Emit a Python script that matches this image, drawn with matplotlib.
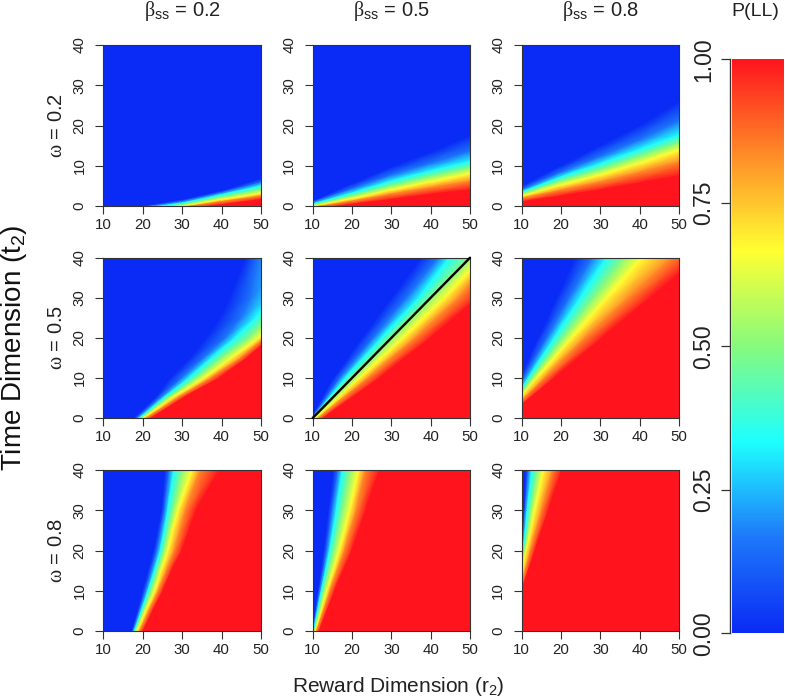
import numpy as np
import matplotlib
matplotlib.use("Agg")
import matplotlib.pyplot as plt
from matplotlib.colors import LinearSegmentedColormap, Normalize
from matplotlib.cm import ScalarMappable

plt.rcParams['font.family'] = ['Liberation Sans', 'DejaVu Sans']
plt.rcParams['mathtext.fontset'] = 'custom'
plt.rcParams['mathtext.rm'] = 'Liberation Serif'
plt.rcParams['mathtext.it'] = 'Liberation Sans'
plt.rcParams['mathtext.default'] = 'regular'

# P(LL) levels traced in every panel
levels = [0, 1/6, 2/6, 3/6, 4/6, 5/6, 1]
level_colors = ['#0a2af5', '#1e78fa', '#1effff', '#87fa7d', '#ffff32', '#ff8c28', '#ff141e']

beta_labels = ['0.2', '0.5', '0.8']
omega_labels = ['0.2', '0.5', '0.8']

# top row: t2 of each P(LL) level at given r2
r_stations = [10, 20, 30, 40, 50]
p11 = [[-1.0, -1.5, -2.0, -2.5, -3.0, -3.5, -4.0],
       [0.0, -0.3, -0.6, -0.8, -1.0, -1.2, -1.5],
       [1.6, 1.1, 0.7, 0.3, 0.0, -0.3, -0.8],
       [3.8, 3.3, 2.8, 2.2, 1.6, 1.1, 0.3],
       [6.8, 5.8, 5.0, 4.0, 3.1, 2.5, 1.6]]
p12 = [[1.3, 0.9, 0.5, 0.2, 0.0, -0.3, -0.8],
       [5.5, 4.2, 3.2, 2.5, 1.8, 1.2, 0.4],
       [9.7, 7.6, 6.2, 5.0, 4.0, 3.0, 1.6],
       [13.4, 10.5, 8.7, 7.3, 6.0, 4.6, 2.9],
       [17.5, 13.5, 11.0, 9.5, 8.0, 6.2, 4.0]]
p13 = [[5.0, 4.0, 3.5, 3.0, 2.5, 1.9, 1.0],
       [10.0, 8.3, 7.2, 6.2, 5.2, 4.0, 2.5],
       [15.0, 12.2, 10.5, 9.0, 7.7, 6.0, 4.0],
       [20.0, 16.3, 14.0, 12.3, 10.6, 8.4, 5.7],
       [26.0, 21.0, 17.6, 15.7, 13.9, 11.0, 7.5]]

# other rows: r2 of each P(LL) level at given t2
t_stations = [0, 10, 20, 30, 40]
t_stations_curved = [0, 5, 10, 15, 20, 25, 30, 40]
p21 = [[17.8, 18.6, 19.2, 19.7, 20.2, 21.0, 22.3],
       [23.1, 24.4, 25.3, 26.3, 27.4, 28.8, 30.3],
       [27.0, 30.0, 31.8, 33.7, 35.6, 37.3, 39.5],
       [32.0, 35.5, 37.5, 40.0, 42.6, 44.8, 46.5],
       [36.0, 41.0, 43.5, 47.0, 49.5, 51.0, 52.5],
       [39.5, 45.0, 48.6, 52.0, 55.0, 57.0, 58.5],
       [42.0, 47.5, 53.0, 57.0, 60.0, 63.0, 65.5],
       [46.0, 49.5, 60.0, 65.0, 69.0, 72.0, 77.0]]
p22 = [[9.5, 9.8, 10.0, 10.3, 10.7, 11.5, 12.8],
       [15.3, 17.0, 18.3, 20.0, 22.0, 24.0, 27.0],
       [22.5, 25.5, 27.5, 30.0, 33.0, 36.0, 40.0],
       [30.0, 34.0, 37.0, 40.0, 43.5, 47.0, 52.0],
       [37.5, 42.0, 44.7, 50.0, 53.0, 56.0, 61.0]]
p23 = [[4.8, 4.9, 5.0, 5.1, 5.2, 5.5, 6.0],
       [9.5, 10.7, 11.7, 12.7, 13.8, 15.8, 18.3],
       [14.2, 16.5, 18.3, 20.5, 22.7, 26.0, 30.5],
       [18.9, 22.2, 24.9, 28.3, 31.6, 37.0, 42.7],
       [23.5, 28.0, 31.5, 36.0, 40.5, 48.0, 55.0]]
p31 = [[17.2, 17.6, 17.9, 18.2, 18.6, 19.3, 20.2],
       [18.7, 19.2, 19.7, 20.2, 20.8, 21.6, 22.6],
       [20.0, 20.8, 21.4, 22.2, 23.1, 24.0, 25.2],
       [21.4, 22.3, 23.0, 23.8, 24.7, 26.0, 27.4],
       [22.8, 23.7, 24.5, 25.4, 26.4, 28.0, 30.0],
       [23.8, 24.7, 25.5, 26.5, 27.6, 29.4, 31.8],
       [24.8, 25.6, 26.4, 27.7, 29.0, 30.8, 33.6],
       [25.7, 26.8, 27.9, 30.1, 32.5, 34.5, 39.5]]
p32 = [[9.8, 10.0, 10.2, 10.4, 10.6, 11.0, 11.7],
       [11.3, 11.8, 12.2, 12.8, 13.6, 14.4, 15.6],
       [12.8, 13.6, 14.3, 15.4, 16.8, 18.0, 20.0],
       [14.0, 15.0, 16.0, 17.6, 19.4, 21.0, 23.5],
       [15.3, 16.5, 17.5, 19.5, 21.6, 23.3, 27.0]]
p33 = [[7.0, 7.0, 7.1, 7.1, 7.2, 7.2, 7.3],
       [8.6, 8.7, 8.8, 8.9, 9.0, 9.5, 10.0],
       [9.9, 10.1, 10.3, 10.7, 11.1, 12.2, 13.4],
       [10.5, 10.9, 11.4, 12.3, 13.3, 15.0, 16.8],
       [11.0, 11.7, 12.5, 14.0, 15.5, 17.8, 20.2]]

W, H = 785, 699
cmap = LinearSegmentedColormap.from_list('pll', list(zip(levels, level_colors)), N=512)
norm = Normalize(0, 1)
col_px = [(103, 261), (312.7, 470), (521.7, 679)]
row_px = [(45, 206), (257.7, 418), (470, 631)]
INK = '#333333'
FAR = 1000.0

fig = plt.figure(figsize=(W / 100, H / 100), dpi=100, facecolor='white')


def add_ax(xp, yp):
    return fig.add_axes([xp[0] / W, 1 - yp[1] / H, (xp[1] - xp[0]) / W, (yp[1] - yp[0]) / H])


panels = [[p11, p12, p13], [p21, p22, p23], [p31, p32, p33]]
for i in range(3):
    for j in range(3):
        ax = add_ax(col_px[j], row_px[i])
        vals = np.array(panels[i][j], float)
        n = vals.shape[0]
        C = np.r_[0.0, levels, 1.0]
        Cm = np.tile(C, (n, 1))
        if i == 0:
            Y = np.c_[np.full(n, FAR), vals, np.full(n, -FAR)]
            X = np.tile(np.array(r_stations, float)[:, None], (1, Y.shape[1]))
        else:
            X = np.c_[np.full(n, -FAR), vals, np.full(n, FAR)]
            st = t_stations_curved if n == len(t_stations_curved) else t_stations
            Y = np.tile(np.array(st, float)[:, None], (1, X.shape[1]))
        ax.pcolormesh(X, Y, Cm, shading='gouraud', cmap=cmap, norm=norm, rasterized=True)
        if i == 1 and j == 1:
            ax.plot([10, 50], [0, 40], color='black', lw=1.7, solid_capstyle='round', zorder=5, clip_on=False)
        ax.set_xlim(10, 50)
        ax.set_ylim(0, 40)
        ax.set_xticks([10, 20, 30, 40, 50])
        ax.set_yticks([0, 10, 20, 30, 40])
        ax.tick_params(axis='both', length=5.8, width=0.8, color=INK, labelsize=10.8, labelcolor='#222222')
        ax.tick_params(axis='x', pad=3.0)
        ax.tick_params(axis='y', pad=6.0)
        for lab in ax.get_yticklabels():
            lab.set_rotation(90)
            lab.set_va('center')
        for s in ax.spines.values():
            s.set_linewidth(0.8)
            s.set_color(INK)

for j, b in enumerate(beta_labels):
    xc = (col_px[j][0] + col_px[j][1]) / 2
    fig.text(xc / W, 1 - 11 / H, r'$\mathrm{\beta}_{ss}$ = ' + b, ha='center', va='center', fontsize=14.5, color='#222222')
for i, o in enumerate(omega_labels):
    yc = (row_px[i][0] + row_px[i][1]) / 2
    fig.text(56 / W, 1 - yc / H, r'$\mathrm{\omega}$ = ' + o, ha='center', va='center', rotation=90, fontsize=14.5, color='#222222')

fig.text(14 / W, 1 - 348 / H, r'Time Dimension (t$_2$)', rotation=90, ha='center', va='center', fontsize=20, color='#111111')
fig.text(398 / W, 1 - 686 / H, r'Reward Dimension (r$_2$)', ha='center', va='center', fontsize=15, color='#222222')
fig.text(755 / W, 1 - 11 / H, 'P(LL)', ha='center', va='center', fontsize=14, color='#222222')

cax = add_ax((731.7, 784.3), (59.3, 633.3))
cb = fig.colorbar(ScalarMappable(norm=norm, cmap=cmap), cax=cax, orientation='vertical')
cb.outline.set_visible(False)
cb.set_ticks([0, 0.25, 0.5, 0.75, 1.0])
cb.set_ticklabels(['0.00', '0.25', '0.50', '0.75', '1.00'])
cax.yaxis.set_ticks_position('left')
cax.spines['left'].set_visible(True)
cax.spines['left'].set_position(('outward', 1.5))
cax.spines['left'].set_linewidth(1.0)
cax.spines['left'].set_color(INK)
cax.tick_params(axis='y', length=6.5, width=0.9, color=INK, labelsize=16.5, labelcolor='#222222', pad=4.0)
for lab in cax.get_yticklabels():
    lab.set_rotation(90)
    lab.set_va('center')

fig.savefig('out.png', dpi=100, facecolor='white')
